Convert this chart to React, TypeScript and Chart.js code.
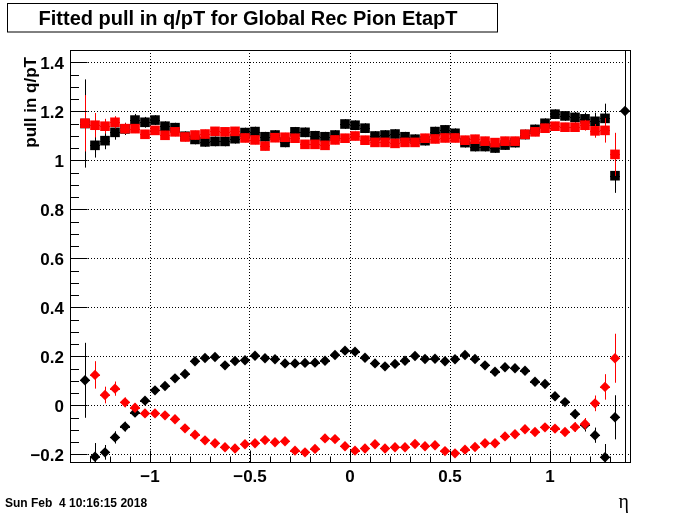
import { useEffect, useRef } from "react";
import { Chart, registerables } from "chart.js";

Chart.register(...registerables);

// ---- data ----
const etaBins = [
  -1.375, -1.325, -1.275, -1.225, -1.175, -1.125, -1.075, -1.025, -0.975, -0.925,
  -0.875, -0.825, -0.775, -0.725, -0.675, -0.625, -0.575, -0.525, -0.475, -0.425,
  -0.375, -0.325, -0.275, -0.225, -0.175, -0.125, -0.075, -0.025,
  0.025, 0.075, 0.125, 0.175, 0.225, 0.275, 0.325, 0.375, 0.425, 0.475,
  0.525, 0.575, 0.625, 0.675, 0.725, 0.775, 0.825, 0.875, 0.925, 0.975,
  1.025, 1.075, 1.125, 1.175, 1.225, 1.275, 1.325, 1.375,
];
const binHalfWidth = 0.025;

const blackSquare = [
  null, 1.150, 1.061, 1.080, 1.114, 1.128, 1.164, 1.155, 1.164, 1.139,
  1.133, 1.098, 1.085, 1.075, 1.077, 1.077, 1.088, 1.113, 1.117, 1.096,
  1.103, 1.073, 1.116, 1.114, 1.100, 1.096, 1.103, 1.148,
  1.143, 1.131, 1.099, 1.103, 1.107, 1.096, 1.086, 1.080, 1.117, 1.124,
  1.110, 1.072, 1.056, 1.056, 1.050, 1.062, 1.072, 1.105, 1.126, 1.151,
  1.188, 1.181, 1.175, 1.169, 1.159, 1.171, 0.937, null,
];
const redSquare = [
  null, 1.151, 1.143, 1.139, 1.155, 1.129, 1.129, 1.106, 1.122, 1.102,
  1.116, 1.095, 1.103, 1.107, 1.118, 1.116, 1.118, 1.091, 1.083, 1.058,
  1.092, 1.094, 1.090, 1.065, 1.065, 1.061, 1.083, 1.090,
  1.099, 1.082, 1.073, 1.073, 1.069, 1.073, 1.073, 1.090, 1.087, 1.091,
  1.091, 1.082, 1.086, 1.078, 1.072, 1.078, 1.078, 1.106, 1.116, 1.131,
  1.139, 1.135, 1.135, 1.143, 1.120, 1.122, 1.024, null,
];
const blackDiamond = [
  null, 0.102, -0.210, -0.192, -0.131, -0.087, -0.030, 0.019, 0.061, 0.079,
  0.110, 0.128, 0.180, 0.193, 0.197, 0.163, 0.181, 0.184, 0.202, 0.192,
  0.188, 0.171, 0.171, 0.173, 0.174, 0.182, 0.205, 0.223,
  0.219, 0.194, 0.171, 0.159, 0.169, 0.182, 0.201, 0.189, 0.190, 0.180,
  0.188, 0.205, 0.189, 0.163, 0.137, 0.155, 0.151, 0.141, 0.096, 0.087,
  0.037, 0.013, -0.036, -0.080, -0.122, -0.212, -0.049, 1.201,
];
const redDiamond = [
  null, null, 0.124, 0.042, 0.068, 0.012, -0.010, -0.033, -0.033, -0.041,
  -0.057, -0.094, -0.120, -0.143, -0.155, -0.171, -0.176, -0.159, -0.155, -0.142,
  -0.151, -0.147, -0.185, -0.192, -0.178, -0.135, -0.138, -0.167,
  -0.185, -0.176, -0.159, -0.176, -0.171, -0.171, -0.158, -0.167, -0.163, -0.187,
  -0.196, -0.181, -0.170, -0.155, -0.155, -0.127, -0.118, -0.098, -0.109, -0.090,
  -0.095, -0.109, -0.089, -0.076, 0.008, 0.075, 0.192, null,
];

const blackSquareErr = [
  0, 0.18, 0.05, 0.035, 0.03, 0.025, 0.025, 0.022,
  0.02, 0.02, 0.02, 0.02, 0.02, 0.02, 0.02, 0.02, 0.02, 0.02,
  0.02, 0.02, 0.02, 0.02, 0.02, 0.02, 0.02, 0.02, 0.02, 0.02,
  0.02, 0.02, 0.02, 0.02, 0.02, 0.02, 0.02, 0.02, 0.02, 0.02,
  0.02, 0.02, 0.02, 0.02, 0.02, 0.02, 0.02, 0.02, 0.02, 0.02,
  0.02, 0.02,
  0.022, 0.025, 0.035, 0.06, 0.07, 0,
];
const redSquareErr = [
  0, 0.115, 0.05, 0.03, 0.025, 0.022,
  0.018, 0.018, 0.018, 0.018, 0.018, 0.018, 0.018, 0.018, 0.018, 0.018,
  0.018, 0.018, 0.018, 0.018, 0.018, 0.018, 0.018, 0.018, 0.018, 0.018,
  0.018, 0.018, 0.018, 0.018, 0.018, 0.018, 0.018, 0.018, 0.018, 0.018,
  0.018, 0.018, 0.018, 0.018, 0.018, 0.018, 0.018, 0.018, 0.018, 0.018,
  0.018, 0.018, 0.018, 0.018, 0.018,
  0.022, 0.028, 0.05, 0.088, 0,
];
const blackDiamondErr = [
  0, 0.153, 0.056, 0.03, 0.025, 0.02, 0.018,
  0.012, 0.012, 0.012, 0.012, 0.012, 0.012, 0.012, 0.012, 0.012, 0.012,
  0.012, 0.012, 0.012, 0.012, 0.012, 0.012, 0.012, 0.012, 0.012, 0.012,
  0.012, 0.012, 0.012, 0.012, 0.012, 0.012, 0.012, 0.012, 0.012, 0.012,
  0.012, 0.012, 0.012, 0.012, 0.012, 0.012, 0.012, 0.012, 0.012, 0.012,
  0.012, 0.012, 0.012,
  0.02, 0.027, 0.031, 0.054, 0.09, 2.0,
];
const redDiamondErr = [
  0, 0, 0.056, 0.034, 0.029, 0.02, 0.018,
  0.012, 0.012, 0.012, 0.012, 0.012, 0.012, 0.012, 0.012, 0.012, 0.012,
  0.012, 0.012, 0.012, 0.012, 0.012, 0.012, 0.012, 0.012, 0.012, 0.012,
  0.012, 0.012, 0.012, 0.012, 0.012, 0.012, 0.012, 0.012, 0.012, 0.012,
  0.012, 0.012, 0.012, 0.012, 0.012, 0.012, 0.012, 0.012, 0.012, 0.012,
  0.012, 0.012, 0.012,
  0.02, 0.024, 0.032, 0.052, 0.1, 0,
];

const xTickValues = [-1, -0.5, 0, 0.5, 1];
const xTickLabels = ["\u22121", "\u22120.5", "0", "0.5", "1"];
const yTickValues = [-0.2, 0, 0.2, 0.4, 0.6, 0.8, 1, 1.2, 1.4];
const yTickLabels = ["\u22120.2", "0", "0.2", "0.4", "0.6", "0.8", "1", "1.2", "1.4"];

const titleText = "Fitted pull in q/pT for Global Rec Pion EtapT";
const yTitleText = "pull in q/pT";
const xTitleText = "\u03b7";
const dateText = "Sun Feb  4 10:16:15 2018";

const X_MIN = -1.4;
const X_MAX = 1.4;
const Y_MIN = -0.2314;
const Y_MAX = 1.45;

const SANS = "'Liberation Sans', Arial, Helvetica, sans-serif";

type Pt = { x: number; y: number; e: number };

function toPoints(values: (number | null)[], errs: number[]): Pt[] {
  const pts: Pt[] = [];
  etaBins.forEach((x, i) => {
    const y = values[i];
    if (y !== null && y !== undefined) pts.push({ x, y, e: errs[i] });
  });
  return pts;
}

const errorBarPlugin = {
  id: "rootErrorBars",
  beforeDatasetDraw(chart: any, args: any) {
    const ds = chart.data.datasets[args.index];
    const { ctx, chartArea: a } = chart;
    const xs = chart.scales.x;
    const ys = chart.scales.y;
    ctx.save();
    ctx.beginPath();
    ctx.rect(a.left, a.top, a.right - a.left, a.bottom - a.top);
    ctx.clip();
    ctx.strokeStyle = ds.pointBackgroundColor;
    ctx.lineWidth = 1;
    ctx.beginPath();
    (ds.data as Pt[]).forEach((p) => {
      const cx = Math.round(xs.getPixelForValue(p.x)) + 0.5;
      const cy = Math.round(ys.getPixelForValue(p.y)) + 0.5;
      const y1 = ys.getPixelForValue(p.y - p.e);
      const y2 = ys.getPixelForValue(p.y + p.e);
      ctx.moveTo(cx, y1);
      ctx.lineTo(cx, y2);
      ctx.moveTo(xs.getPixelForValue(p.x - binHalfWidth), cy);
      ctx.lineTo(xs.getPixelForValue(p.x + binHalfWidth), cy);
    });
    ctx.stroke();
    ctx.restore();
  },
};

const framePlugin = {
  id: "rootFrame",
  afterDraw(chart: any) {
    const { ctx, chartArea: a } = chart;
    const xs = chart.scales.x;
    const ys = chart.scales.y;
    ctx.save();
    ctx.strokeStyle = "#000";
    ctx.lineWidth = 1;
    const L = Math.round(a.left) + 0.5;
    const R = Math.round(a.right) + 0.5;
    const T = Math.round(a.top) + 0.5;
    const B = Math.round(a.bottom) + 0.5;
    ctx.strokeRect(L, T, R - L, B - T);

    // x-axis tick marks (inside, pointing up)
    ctx.beginPath();
    for (let k = -14; k <= 14; k++) {
      const v = k / 10;
      const px = Math.round(xs.getPixelForValue(v)) + 0.5;
      const len = k % 5 === 0 ? 12 : 6;
      ctx.moveTo(px, B);
      ctx.lineTo(px, B - len);
    }
    // y-axis tick marks (inside, pointing right)
    for (let k = -4; k <= 29; k++) {
      const v = k * 0.05;
      if (v < Y_MIN || v > Y_MAX) continue;
      const py = Math.round(ys.getPixelForValue(v)) + 0.5;
      const len = k % 4 === 0 ? 17 : 8.5;
      ctx.moveTo(L, py);
      ctx.lineTo(L + len, py);
    }
    ctx.stroke();

    // title box
    ctx.fillStyle = "#fff";
    ctx.fillRect(7.5, 3.5, 490, 28.5);
    ctx.strokeRect(7.5, 3.5, 490, 28.5);
    ctx.fillStyle = "#000";
    ctx.font = `bold 20px ${SANS}`;
    ctx.textAlign = "center";
    ctx.textBaseline = "alphabetic";
    ctx.fillText(titleText, 248, 24.5);

    // y title (rotated, aligned to the top end of the axis)
    ctx.save();
    ctx.translate(36, 57);
    ctx.rotate(-Math.PI / 2);
    ctx.font = `bold 17px ${SANS}`;
    ctx.textAlign = "right";
    ctx.fillText(yTitleText, 0, 0);
    ctx.restore();

    // x title
    ctx.font = `20px 'Liberation Serif', 'DejaVu Serif', serif`;
    ctx.textAlign = "right";
    ctx.fillText(xTitleText, 629, 508);

    // date stamp
    ctx.font = `bold 12px ${SANS}`;
    ctx.textAlign = "left";
    ctx.fillText(dateText, 5, 507);
    ctx.restore();
  },
};

function makeDataset(label: string, values: (number | null)[], errs: number[], color: string, style: string, radius: number) {
  return {
    label,
    data: toPoints(values, errs),
    pointStyle: style,
    pointRadius: radius,
    pointHoverRadius: radius,
    pointBackgroundColor: color,
    pointBorderColor: color,
    pointBorderWidth: 0,
    pointHoverBorderWidth: 0,
    showLine: false,
    clip: false as any,
  };
}

export default function App() {
  const ref = useRef<HTMLCanvasElement>(null);

  useEffect(() => {
    if (!ref.current) return;
    const tickFont = { family: SANS, size: 17, weight: "bold" as const };
    const chart = new Chart(ref.current, {
      type: "scatter",
      data: {
        datasets: [
          makeDataset("red diamond", redDiamond, redDiamondErr, "#ff0000", "rectRot", 5.2),
          makeDataset("red square", redSquare, redSquareErr, "#ff0000", "rect", 6.8),
          makeDataset("black diamond", blackDiamond, blackDiamondErr, "#000000", "rectRot", 5.2),
          makeDataset("black square", blackSquare, blackSquareErr, "#000000", "rect", 6.8),
        ] as any,
      },
      options: {
        responsive: false,
        animation: false,
        events: [],
        layout: { padding: { left: 0, right: 70, top: 50, bottom: 0 } },
        plugins: {
          legend: { display: false },
          tooltip: { enabled: false },
          title: { display: false },
        },
        scales: {
          x: {
            type: "linear",
            min: X_MIN,
            max: X_MAX,
            bounds: "data",
            afterFit: (s: any) => {
              s.height = 52;
            },
            afterBuildTicks: (s: any) => {
              s.ticks = xTickValues.map((v) => ({ value: v }));
            },
            ticks: {
              includeBounds: false,
              autoSkip: false,
              maxRotation: 0,
              minRotation: 0,
              padding: 5,
              color: "#000",
              font: tickFont,
              callback: (_v: any, i: number) => xTickLabels[i],
            },
            grid: { color: "#000", lineWidth: 1, drawTicks: false },
            border: { display: false, dash: [1, 2] },
          },
          y: {
            type: "linear",
            min: Y_MIN,
            max: Y_MAX,
            bounds: "data",
            afterFit: (s: any) => {
              s.width = 70;
            },
            afterBuildTicks: (s: any) => {
              s.ticks = yTickValues.map((v) => ({ value: v }));
            },
            ticks: {
              includeBounds: false,
              autoSkip: false,
              padding: 6,
              labelOffset: 2,
              color: "#000",
              font: tickFont,
              callback: (_v: any, i: number) => yTickLabels[i],
            },
            grid: { color: "#000", lineWidth: 1, drawTicks: false },
            border: { display: false, dash: [1, 2] },
          },
        },
      } as any,
      plugins: [errorBarPlugin, framePlugin],
    });
    return () => chart.destroy();
  }, []);

  return (
    <div style={{ position: "absolute", left: 0, top: 0, width: 700, height: 514, background: "#fff" }}>
      <canvas ref={ref} width={700} height={514} style={{ display: "block", width: 700, height: 514 }} />
    </div>
  );
}
